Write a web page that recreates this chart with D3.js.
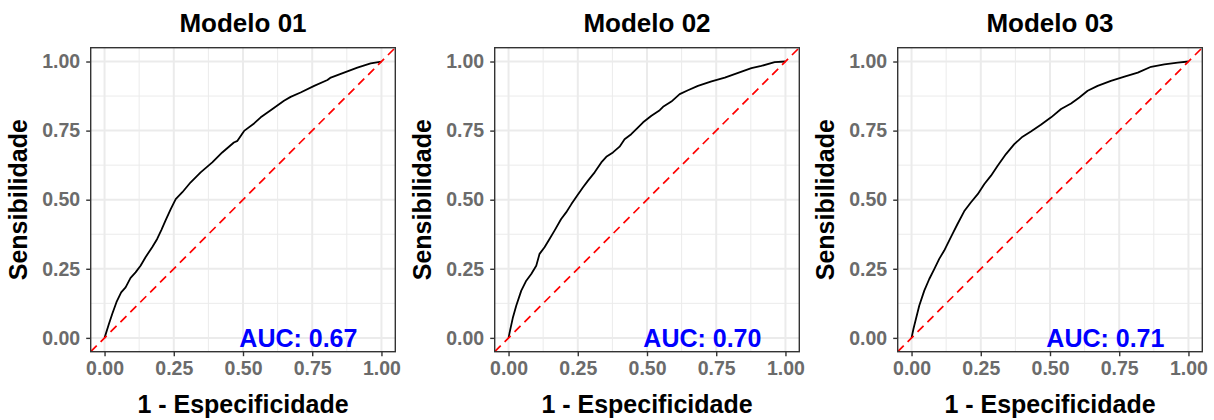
<!DOCTYPE html>
<html>
<head>
<meta charset="utf-8">
<script src="https://cdn.jsdelivr.net/npm/d3@7"></script>
<style>
  html, body { margin: 0; padding: 0; background: #fff; }
  text { font-family: "Liberation Sans", Arial, Helvetica, sans-serif; font-weight: bold; }
</style>
</head>
<body>
<svg id="chart" width="1214" height="420"></svg>
<script>
// ---- data ----
const titles = ["Modelo 01", "Modelo 02", "Modelo 03"];
const aucLabels = ["AUC: 0.67", "AUC: 0.70", "AUC: 0.71"];
const tickValues = [0, 0.25, 0.5, 0.75, 1];
const tickLabels = ["0.00", "0.25", "0.50", "0.75", "1.00"];
const minorTicks = [0.125, 0.375, 0.625, 0.875];

const fpr1 = [0, 0.016, 0.028, 0.043, 0.060, 0.076, 0.094, 0.112, 0.130, 0.148, 0.172, 0.190, 0.205, 0.220, 0.239, 0.257, 0.281, 0.311, 0.347, 0.389, 0.425, 0.467, 0.480, 0.504, 0.540, 0.564, 0.600, 0.648, 0.672, 0.708, 0.757, 0.805, 0.817, 0.865, 0.913, 0.961, 1];
const tpr1 = [0, 0.051, 0.087, 0.129, 0.165, 0.183, 0.217, 0.237, 0.261, 0.292, 0.328, 0.358, 0.390, 0.424, 0.466, 0.502, 0.527, 0.563, 0.599, 0.635, 0.671, 0.707, 0.713, 0.749, 0.776, 0.798, 0.824, 0.858, 0.872, 0.888, 0.912, 0.933, 0.942, 0.960, 0.978, 0.993, 1];

const fpr2 = [0, 0.004, 0.016, 0.028, 0.046, 0.064, 0.082, 0.100, 0.112, 0.130, 0.148, 0.166, 0.190, 0.208, 0.227, 0.245, 0.269, 0.287, 0.311, 0.335, 0.353, 0.377, 0.401, 0.419, 0.443, 0.467, 0.486, 0.516, 0.546, 0.558, 0.588, 0.618, 0.648, 0.684, 0.733, 0.781, 0.829, 0.877, 0.913, 0.961, 1];
const tpr2 = [0, 0.020, 0.075, 0.117, 0.171, 0.207, 0.231, 0.261, 0.304, 0.328, 0.358, 0.388, 0.430, 0.454, 0.484, 0.511, 0.545, 0.569, 0.599, 0.635, 0.655, 0.671, 0.692, 0.719, 0.737, 0.761, 0.780, 0.804, 0.824, 0.836, 0.855, 0.882, 0.896, 0.912, 0.928, 0.942, 0.959, 0.976, 0.984, 0.998, 1];

const fpr3 = [0, 0.007, 0.016, 0.028, 0.046, 0.064, 0.082, 0.100, 0.118, 0.130, 0.148, 0.166, 0.190, 0.214, 0.239, 0.263, 0.287, 0.311, 0.341, 0.371, 0.401, 0.431, 0.467, 0.504, 0.540, 0.576, 0.606, 0.636, 0.672, 0.720, 0.769, 0.817, 0.865, 0.913, 0.961, 1];
const tpr3 = [0, 0.033, 0.069, 0.117, 0.171, 0.213, 0.249, 0.286, 0.316, 0.340, 0.376, 0.412, 0.458, 0.490, 0.520, 0.557, 0.587, 0.623, 0.665, 0.701, 0.728, 0.747, 0.771, 0.798, 0.828, 0.848, 0.870, 0.894, 0.912, 0.930, 0.945, 0.960, 0.981, 0.990, 0.996, 1];

const fprs = [fpr1, fpr2, fpr3];
const tprs = [tpr1, tpr2, tpr3];

// ---- layout ----
const svg = d3.select("#chart");
const panelLefts = [90.7, 494.7, 897.7];
const panelW = 304.6, panelTop = 47.7, panelH = 304;
const domain = [-0.05, 1.05];

panelLefts.forEach((left, i) => {
  const x = d3.scaleLinear().domain(domain).range([left, left + panelW]);
  const y = d3.scaleLinear().domain(domain).range([panelTop + panelH, panelTop]);
  const g = svg.append("g");

  g.append("rect").attr("x", left).attr("y", panelTop).attr("width", panelW).attr("height", panelH).attr("fill", "#fff");

  // minor grid
  g.selectAll(".mgx").data(minorTicks).enter().append("line")
    .attr("x1", d => x(d)).attr("x2", d => x(d)).attr("y1", panelTop).attr("y2", panelTop + panelH)
    .attr("stroke", "#EBEBEB").attr("stroke-width", 1);
  g.selectAll(".mgy").data(minorTicks).enter().append("line")
    .attr("y1", d => y(d)).attr("y2", d => y(d)).attr("x1", left).attr("x2", left + panelW)
    .attr("stroke", "#EBEBEB").attr("stroke-width", 1);
  // major grid
  g.selectAll(".Mgx").data(tickValues).enter().append("line")
    .attr("x1", d => x(d)).attr("x2", d => x(d)).attr("y1", panelTop).attr("y2", panelTop + panelH)
    .attr("stroke", "#EBEBEB").attr("stroke-width", 2);
  g.selectAll(".Mgy").data(tickValues).enter().append("line")
    .attr("y1", d => y(d)).attr("y2", d => y(d)).attr("x1", left).attr("x2", left + panelW)
    .attr("stroke", "#EBEBEB").attr("stroke-width", 2);

  const clipId = "clip" + i;
  svg.append("clipPath").attr("id", clipId).append("rect")
    .attr("x", left).attr("y", panelTop).attr("width", panelW).attr("height", panelH);
  const inner = g.append("g").attr("clip-path", `url(#${clipId})`);

  // ROC curve
  const pts = fprs[i].map((f, k) => [f, tprs[i][k]]);
  inner.append("path").datum(pts)
    .attr("d", d3.line().x(d => x(d[0])).y(d => y(d[1])))
    .attr("fill", "none").attr("stroke", "#000").attr("stroke-width", 1.8).attr("stroke-linejoin", "round");

  // diagonal
  inner.append("line")
    .attr("x1", x(domain[0])).attr("y1", y(domain[0]))
    .attr("x2", x(domain[1])).attr("y2", y(domain[1]))
    .attr("stroke", "#FF0000").attr("stroke-width", 1.7).attr("stroke-dasharray", "8.5,5.5");

  // AUC label
  g.append("text").attr("x", x(0.7)).attr("y", y(0) + 9)
    .attr("text-anchor", "middle").attr("fill", "#0000FF").attr("font-size", 25)
    .text(aucLabels[i]);

  // border
  g.append("rect").attr("x", left).attr("y", panelTop).attr("width", panelW).attr("height", panelH)
    .attr("fill", "none").attr("stroke", "#333333").attr("stroke-width", 1.4);

  // axes
  const xAxis = d3.axisBottom(x).tickValues(tickValues).tickFormat((d, k) => tickLabels[k]).tickSize(4.5).tickPadding(5);
  const yAxis = d3.axisLeft(y).tickValues(tickValues).tickFormat((d, k) => tickLabels[k]).tickSize(4.5).tickPadding(6);
  const gx = g.append("g").attr("transform", `translate(0,${panelTop + panelH})`).call(xAxis);
  const gy = g.append("g").attr("transform", `translate(${left},0)`).call(yAxis);
  [gx, gy].forEach(a => {
    a.select(".domain").remove();
    a.selectAll(".tick line").attr("stroke", "#333333").attr("stroke-width", 1.4);
    a.selectAll(".tick text").attr("fill", "#6B6B6B").attr("font-size", 19.5)
      .style("font-family", '"Liberation Sans", Arial, sans-serif').style("font-weight", "bold");
  });

  // title
  g.append("text").attr("x", left + panelW / 2).attr("y", 32)
    .attr("text-anchor", "middle").attr("fill", "#000").attr("font-size", 26).text(titles[i]);

  // x axis title
  g.append("text").attr("x", left + panelW / 2).attr("y", 413)
    .attr("text-anchor", "middle").attr("fill", "#000").attr("font-size", 25).text("1 - Especificidade");

  // y axis title
  g.append("text").attr("transform", `translate(${left - 64},${panelTop + panelH / 2}) rotate(-90)`)
    .attr("text-anchor", "middle").attr("fill", "#000").attr("font-size", 25).text("Sensibilidade");
});
</script>
</body>
</html>
